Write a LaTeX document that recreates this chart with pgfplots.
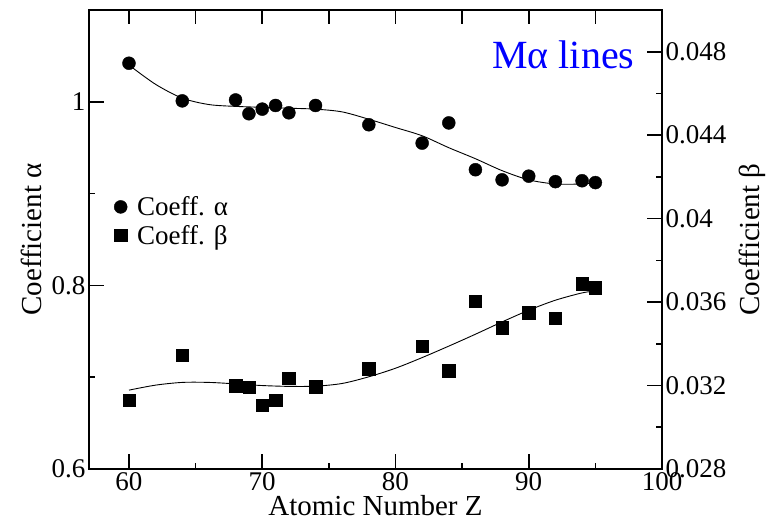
\documentclass[border=0pt]{standalone}
\usepackage{fontspec}
\setmainfont{Liberation Serif}
\usepackage{pgfplots}
\pgfplotsset{compat=1.18}
\usetikzlibrary{calc}
\begin{document}
\begin{tikzpicture}
\pgfplotsset{
  base/.style={
    scale only axis, width=573bp, height=459bp,
    xmin=57, xmax=100,
    axis line style={line width=1.8bp},
    tick style={line width=1.6bp, black},
    tick align=inside,
    major tick length=15bp, minor tick length=6bp,
    /pgf/number format/assume math mode=true,
    ticklabel style={font=\fontsize{27bp}{30bp}\selectfont},
    label style={font=\fontsize{29bp}{32bp}\selectfont},
    clip=false,
  }
}
\begin{axis}[base, name=ax,
  ymin=0.6, ymax=1.1,
  xtick={60,70,80,90,100}, minor xtick={65,75,85,95},
  xticklabels={60,70,80,90,100},
  xtick pos=bottom,
  ytick={0.6,0.8,1}, minor ytick={0.7,0.9},
  yticklabels={0.6,0.8,1},
  ytick pos=left,
  xlabel={Atomic Number Z},
  ylabel={Coefficient α},
  xlabel shift=-2bp,
  ylabel shift=3bp,
  legend image code/.code={\draw[mark repeat=2,mark phase=2,#1] plot coordinates {(0bp,0bp)(7bp,0bp)(14bp,0bp)};},
  legend style={at={(0.0436,0.540)}, anchor=west, draw=none, fill=none,
    font=\fontsize{27bp}{30bp}\selectfont, row sep=8bp, inner sep=0pt,
    nodes={inner sep=0pt}, column sep=10bp},
  legend cell align=left,
]
\addplot[black, line width=0.9bp, smooth, no marks, forget plot] coordinates {
(60,1.040) (62,1.019) (64,1.004) (66,0.997) (68,0.995) (70,0.994) (72,0.993)
(74,0.992) (76,0.989) (78,0.981) (80,0.972) (82,0.963) (84,0.950) (86,0.938)
(88,0.925) (90,0.915) (92,0.9105) (94,0.9105) (95,0.9123)};
\addplot[black, only marks, mark=*, mark size=6.5bp] coordinates {
(60,1.042) (64,1.001) (68,1.002) (69,0.987) (70,0.992) (71,0.996) (72,0.988)
(74,0.996) (78,0.975) (82,0.955) (84,0.977) (86,0.926) (88,0.915) (90,0.919)
(92,0.913) (94,0.914) (95,0.912)};
\addlegendentry{Coeff. α}
\addlegendimage{black, only marks, mark=square*, mark size=6.2bp}
\addlegendentry{Coeff. β}
\node[anchor=east, text=blue, font=\fontsize{40bp}{44bp}\selectfont] at (rel axis cs:0.958,0.902) {Mα lines};
\end{axis}
\begin{axis}[base,
  ymin=0.028, ymax=0.050,
  xtick=\empty,
  scaled y ticks=false,
  ytick={0.028,0.032,0.036,0.040,0.044,0.048},
  yticklabels={0.028,0.032,0.036,0.04,0.044,0.048},
  minor ytick={0.030,0.034,0.038,0.042,0.046},
  ytick pos=right,
  ylabel={Coefficient β},
  ylabel shift=6bp,
]
\addplot[black, line width=0.9bp, smooth, no marks] coordinates {
(60,0.03178) (62,0.03202) (64,0.03215) (66,0.03215) (68,0.03208) (70,0.03200)
(72,0.03196) (74,0.03197) (76,0.03210) (78,0.03242) (80,0.03283) (82,0.03334)
(84,0.03389) (86,0.03446) (88,0.03505) (90,0.03561) (92,0.03609) (94,0.03644) (95,0.03653)};
\addplot[black, only marks, mark=square*, mark size=6.2bp] coordinates {
(60,0.0313) (64,0.03345) (68,0.0320) (69,0.03192) (70,0.03106) (71,0.03129)
(72,0.03235) (74,0.03194) (78,0.0328) (82,0.03389) (84,0.03272) (86,0.03604)
(88,0.03478) (90,0.0355) (92,0.03524) (94,0.03689) (95,0.03669)};
\end{axis}
\begin{axis}[base,
  ymin=0, ymax=1, ytick=\empty,
  xtick={60,65,70,75,80,85,90,95}, xticklabels={},
  xtick pos=top, major tick length=14bp,
]
\end{axis}
\pgfresetboundingbox
\path ($(ax.south west)+(-89bp,-53bp)$) rectangle ($(ax.south west)+(678bp,469bp)$);
\end{tikzpicture}
\end{document}
